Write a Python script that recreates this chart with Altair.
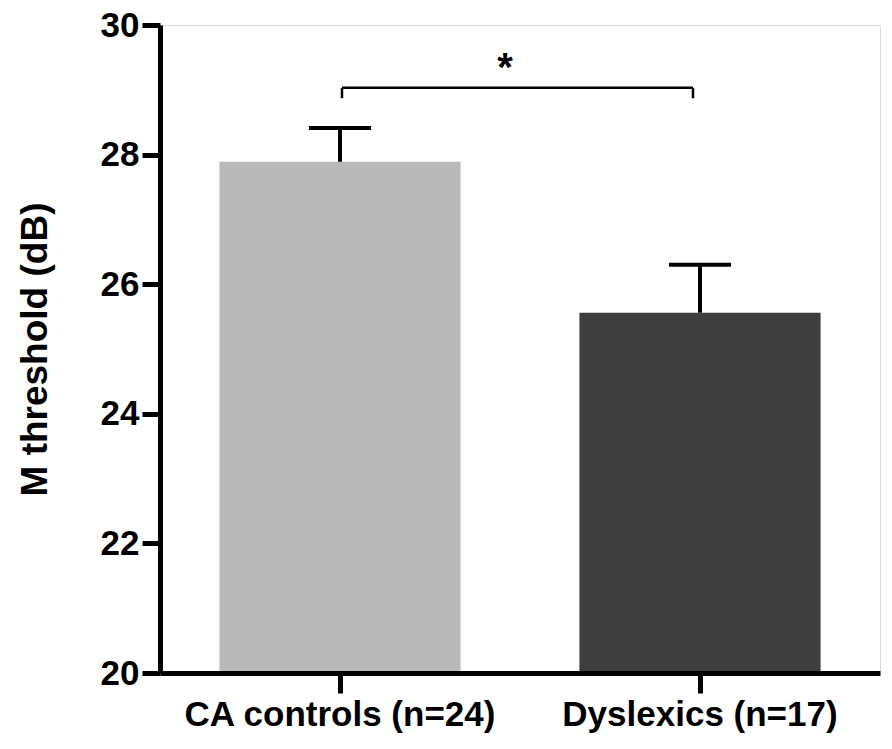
import altair as alt
import pandas as pd

groups = ["CA controls (n=24)", "Dyslexics (n=17)"]
means = [27.89, 25.56]
err_top = [28.41, 26.30]
colors = ["#b9b9b9", "#3e3e3e"]
bracket_y = 29.03
bracket_drop = 28.87
sig_label = "*"

df = pd.DataFrame({"group": groups, "mean": means, "top": err_top, "color": colors})
br = pd.DataFrame({"g1": [groups[0]], "g2": [groups[1]], "y": [bracket_y], "y0": [bracket_drop]})
star = pd.DataFrame({"group": [groups[0]], "y": [29.55], "t": [sig_label]})

FONT = "Liberation Sans"

xscale = alt.Scale(domain=groups, paddingInner=0.33, paddingOuter=0.165)
yscale = alt.Scale(domain=[20, 30], nice=False, zero=False)

xenc = alt.X("group:N", scale=xscale, sort=groups,
             axis=alt.Axis(title=None, labelAngle=0, labelFont=FONT, labelFontSize=35,
                           labelFontWeight="bold", labelColor="black", domainColor="black",
                           domainWidth=5, tickColor="black", tickWidth=5, tickSize=20,
                           labelPadding=4, labelLimit=500, zindex=1))
yaxis = alt.Axis(title="M threshold (dB)", values=[20, 22, 24, 26, 28, 30], format="d",
                 labelFont=FONT,
                 labelFontSize=35, labelFontWeight="bold", labelColor="black",
                 titleFont=FONT, titleFontSize=37, titleFontWeight="bold", titleColor="black",
                 titlePadding=46, domainColor="black", domainWidth=5, tickColor="black",
                 tickWidth=5, tickSize=18, labelPadding=3, grid=False, zindex=1)

bars = alt.Chart(df).mark_bar(clip=True).encode(
    x=xenc,
    y=alt.Y("mean:Q", scale=yscale, axis=yaxis),
    y2=alt.datum(20),
    color=alt.Color("color:N", scale=None),
)

err = alt.Chart(df).mark_rule(color="black", strokeWidth=4).encode(
    x=alt.X("group:N", scale=xscale, sort=groups),
    y=alt.Y("mean:Q", scale=yscale),
    y2="top:Q",
)
cap = alt.Chart(df).mark_tick(color="black", thickness=4, size=62, opacity=1).encode(
    x=alt.X("group:N", scale=xscale, sort=groups),
    y=alt.Y("top:Q", scale=yscale),
)

hline = alt.Chart(br).mark_rule(color="black", strokeWidth=2.5, xOffset=2, x2Offset=-7).encode(
    x=alt.X("g1:N", scale=xscale, sort=groups),
    x2="g2:N",
    y=alt.Y("y:Q", scale=yscale),
)
vleft = alt.Chart(br).mark_rule(color="black", strokeWidth=2.5, xOffset=2).encode(
    x=alt.X("g1:N", scale=xscale, sort=groups),
    y=alt.Y("y:Q", scale=yscale),
    y2="y0:Q",
)
vright = alt.Chart(br).mark_rule(color="black", strokeWidth=2.5, xOffset=-7).encode(
    x=alt.X("g2:N", scale=xscale, sort=groups),
    y=alt.Y("y:Q", scale=yscale),
    y2="y0:Q",
)
stxt = alt.Chart(star).mark_text(font=FONT, fontSize=40, fontWeight="bold", color="black",
                                 dx=165, dy=15).encode(
    x=alt.X("group:N", scale=xscale, sort=groups),
    y=alt.Y("y:Q", scale=yscale),
    text="t:N",
)

chart = alt.layer(bars, err, cap, hline, vleft, vright, stxt).properties(
    width=720, height=648,
    autosize=alt.AutoSizeParams(type="none"),
    padding={"left": 152, "top": 17, "right": 4, "bottom": 60},
).configure_view(stroke=None).configure(background="white")

chart.save("out.html", embed_options={"renderer": "svg", "actions": False})
